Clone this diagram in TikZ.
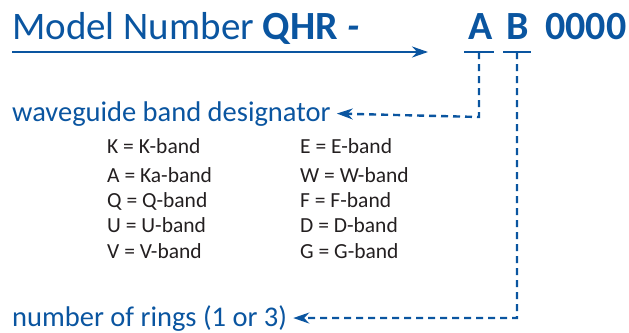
\documentclass[tikz,border=0pt]{standalone}
\usepackage{fontspec}
\setmainfont{Carlito}
\usetikzlibrary{arrows.meta,positioning,calc}
\definecolor{codeblue}{HTML}{0A55A0}
\definecolor{tabtext}{HTML}{231F20}
\tikzset{
  title/.style={anchor=base west, inner sep=0pt, text=codeblue, font=\fontsize{39}{42}\selectfont},
  code/.style={anchor=base west, inner sep=0pt, text=codeblue, font=\fontsize{40}{42}\selectfont\bfseries},
  label/.style={anchor=base west, inner sep=0pt, text=codeblue, font=\fontsize{28.5}{30}\selectfont},
  entry/.style={anchor=base west, inner sep=0pt, text=tabtext, font=\fontsize{21.5}{24}\selectfont},
  arr/.style={-{Stealth[length=16pt, width=11pt]}, line width=2.4pt, draw=codeblue},
  bar/.style={line width=2.6pt, draw=codeblue},
  lead/.style={-{Stealth[length=16pt, width=11pt]}, line width=2.4pt, draw=codeblue, dash pattern=on 7pt off 5pt}
}
\begin{document}
\begin{tikzpicture}[x=1pt, y=-1pt]
\useasboundingbox (0,0) rectangle (629,332);
% heading
\node[title] (model) at (12,39) {Model Number {\fontsize{40}{42}\selectfont\bfseries QHR \textit{-}}};
\node[code] (a) at (468,39) {A};
\node[code] (b) at (506,39) {B};
\node[code] (num) at (545,39) {0000};
\coordinate (tip) at (428,52);
\draw[arr] (12,52) -- (tip);
% brackets under the code letters
\coordinate (abar) at (479,52);
\coordinate (bbar) at (517,52);
\draw[bar] ($(abar)+(-15,0)$) -- ($(abar)+(15,0)$);
\draw[bar] ($(bbar)+(-14,0)$) -- ($(bbar)+(14,0)$);
% labels
\node[label] (band) at (12,121) {waveguide band designator};
\node[label] (rings) at (12,326) {number of rings (1 or 3)};
\draw[lead] (abar) -- (abar |- {0,117}) -- ($(band.east)+(6,0)$ |- {0,117});
\draw[lead] (bbar) -- (bbar |- {0,318}) -- ($(rings.east)+(6,0)$ |- {0,318});
% band table
\foreach \row/\ya/\lft/\rgt in {1/153/K = K-band/E = E-band, 2/182/A = Ka-band/W = W-band,
  3/207/Q = Q-band/F = F-band, 4/232/U = U-band/D = D-band, 5/258/V = V-band/G = G-band} {
  \node[entry] (l\row) at (107,\ya) {\lft};
  \node[entry] (r\row) at (300,\ya) {\rgt};
}
\end{tikzpicture}
\end{document}
